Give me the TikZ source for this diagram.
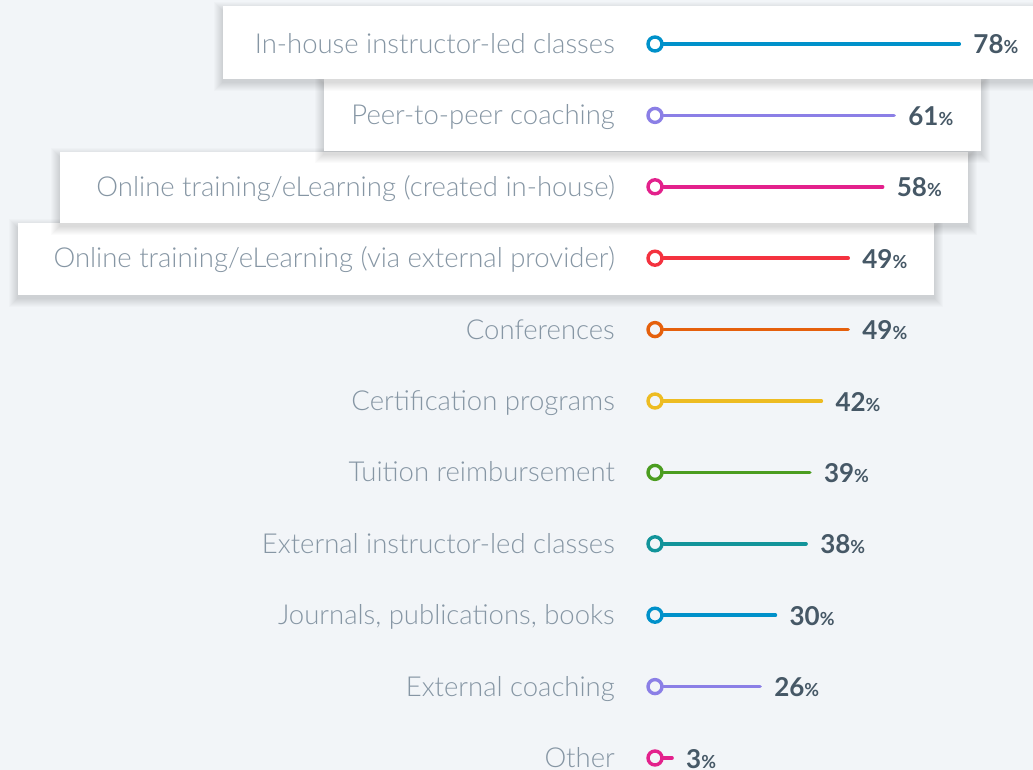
\documentclass[tikz,border=0pt]{standalone}
\usepackage{fontspec}
\setmainfont{Lato}
\newfontfamily\lightfont{Lato Light}
\usetikzlibrary{positioning}

\definecolor{bgcol}{HTML}{F2F5F8}
\definecolor{labcol}{HTML}{8696A4}
\definecolor{pctcol}{HTML}{465866}
\definecolor{cblue}{HTML}{0091CA}
\definecolor{cpurple}{HTML}{8B7FE6}
\definecolor{cmagenta}{HTML}{E3218C}
\definecolor{cred}{HTML}{F4323F}
\definecolor{corange}{HTML}{E5600C}
\definecolor{cyellow}{HTML}{EDBC22}
\definecolor{cgreen}{HTML}{4B9D20}
\definecolor{cteal}{HTML}{12949A}

% white card with a soft shadow under it
\newcommand{\shadowcard}[4]{%
  \foreach \k in {1,...,9}
    \fill[black, opacity=0.014] (#1-\k,#2+5-\k) rectangle (#3+\k,#4+3+\k);
  \fill[white] (#1,#2) rectangle (#3,#4);
}

\tikzset{
  lab/.style={anchor=base east, inner sep=0pt, text=labcol, font=\lightfont\fontsize{27.5}{32}\selectfont},
  pct/.style={anchor=base west, inner sep=0pt, text=pctcol, font=\bfseries\fontsize{26}{30}\selectfont},
  dot/.style={circle, draw=#1, line width=3.4pt, minimum size=14pt, inner sep=0pt},
  bar/.style={draw=#1, line width=3.6pt, line cap=round}
}

\begin{document}
\begin{tikzpicture}[x=1pt,y=-1pt]
    \fill[bgcol] (0,0) rectangle (1033,770);
    \useasboundingbox (0,0) rectangle (1033,770);

    % highlighted rows
    \shadowcard{18}{223}{934}{295}
    \shadowcard{60}{152}{968}{223}
    \shadowcard{324}{79}{981}{151}
    \shadowcard{223}{6}{1050}{79}

    \foreach \lab/\val/\col [count=\i] in {
        In-house instructor-led classes/78/cblue,
        Peer-to-peer coaching/61/cpurple,
        {Online training/eLearning (created in-house)}/58/cmagenta,
        {Online training/eLearning (via external provider)}/49/cred,
        Conferences/49/corange,
        Certification programs/42/cyellow,
        Tuition reimbursement/39/cgreen,
        External instructor-led classes/38/cteal,
        {Journals, publications, books}/30/cblue,
        External coaching/26/cpurple,
        Other/3/cmagenta} {
      \pgfmathsetmacro{\yy}{44+71.4*(\i-1)}
      \node[lab] (lab\i) at (615,\yy+9.5) {\lab};
      \node[dot=\col] (dot\i) at (655,\yy) {};
      \coordinate (end\i) at (660.5+3.83*\val,\yy);
      \draw[bar=\col] (dot\i.east) -- (end\i);
      \node[pct] (pct\i) at ([xshift=14pt,yshift=-10pt]end\i) {\val{\fontsize{18}{20}\selectfont\%}};
    }
\end{tikzpicture}
\end{document}
